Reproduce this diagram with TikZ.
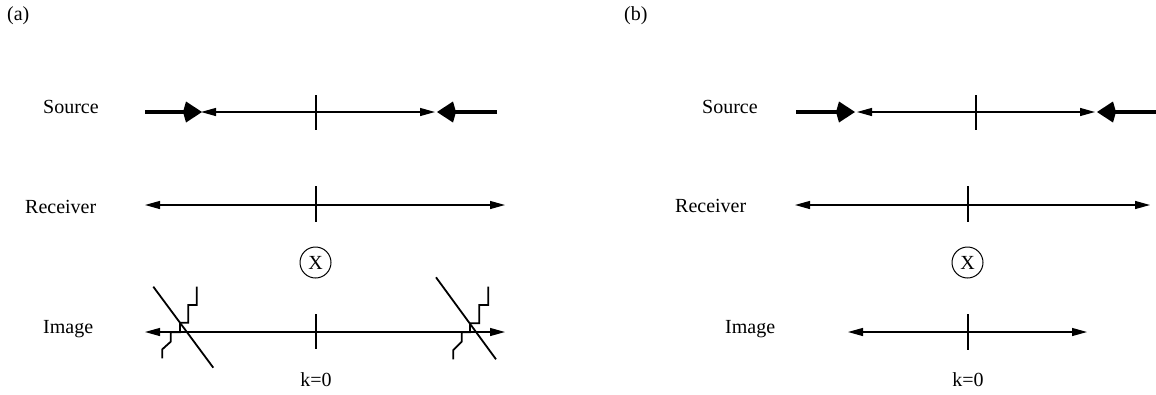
\documentclass[tikz,border=0pt]{standalone}
\usepackage{fontspec}
\setmainfont{Liberation Serif}
\usetikzlibrary{arrows.meta}
\begin{document}
\begin{tikzpicture}[x=1pt,y=-1pt,
  font=\fontsize{20}{24}\selectfont,
  lbl/.style={anchor=base west,inner sep=0pt},
  fine/.style={line width=1.2pt},
  heavy/.style={line width=3.3pt,-{Kite[length=19pt,width=21pt,inset=3pt]}},
  both/.style={fine,{Triangle[length=15pt,width=8pt]}-{Triangle[length=15pt,width=8pt]}},
  tick/.style={line width=1.1pt},
  stair/.style={line width=1.8pt},
  xcirc/.style={draw,circle,line width=1pt,minimum size=31pt,inner sep=0pt}]
\useasboundingbox (0,0) rectangle (1156,394);

% panel labels
\node[lbl] (pa) at (7,20) {(a)};
\node[lbl] (pb) at (624,20) {(b)};

% row labels (a)
\node[lbl] (srcA) at (43,113) {Source};
\node[lbl] (recA) at (25,213) {Receiver};
\node[lbl] (imgA) at (43,333) {Image};
% row labels (b)
\node[lbl] (srcB) at (702,113) {Source};
\node[lbl] (recB) at (675,212) {Receiver};
\node[lbl] (imgB) at (725,333) {Image};

% ---------- panel (a) ----------
\coordinate (sA0) at (145,112);
\coordinate (sA1) at (202,112);
\coordinate (sA2) at (201,112);
\coordinate (sA3) at (435,112);
\coordinate (sA4) at (437,112);
\coordinate (sA5) at (497,112);
\coordinate (sAt) at (316,95);
\coordinate (sAb) at (316,130);
\draw[heavy] (sA0) -- (sA1);
\draw[both] (sA2) -- (sA3);
\draw[heavy] (sA5) -- (sA4);
\draw[tick] (sAt) -- (sAb);

\coordinate (rA0) at (145,205);
\coordinate (rA1) at (505,205);
\coordinate (rAt) at (316,186);
\coordinate (rAb) at (316,222);
\draw[both] (rA0) -- (rA1);
\draw[tick] (rAt) -- (rAb);

\node[xcirc] (xA) at (315.5,262.5) {X};

\coordinate (iA0) at (145,332);
\coordinate (iA1) at (505,332);
\coordinate (iAt) at (316,314);
\coordinate (iAb) at (316,349);
\draw[both] (iA0) -- (iA1);
\draw[tick] (iAt) -- (iAb);

% left interface
\draw[stair] (153.3,286.7) -- (213.3,367.7);
\draw[stair] (196.7,286.7) -- (196.7,305) -- (188.3,305) -- (188.3,322.7) -- (180,322.7)
  -- (180,332.3) -- (170.7,332.3) -- (170.7,341.7) -- (162.3,349.3) -- (162.3,358.3);
% right interface
\draw[stair] (436,277.3) -- (496,359.3);
\draw[stair] (488.3,286.7) -- (488.3,305) -- (479.3,305) -- (479.3,323.3) -- (470,323.3)
  -- (470,332.3) -- (461.7,332.3) -- (461.7,341.7) -- (453.3,350) -- (453.3,359.3);

\node[anchor=base,inner sep=0pt] (kA) at (316,386) {k=0};

% ---------- panel (b) ----------
\coordinate (sB0) at (796,112);
\coordinate (sB1) at (855,112);
\coordinate (sB2) at (857,112);
\coordinate (sB3) at (1095,112);
\coordinate (sB4) at (1097,112);
\coordinate (sB5) at (1156,112);
\coordinate (sBt) at (976,95);
\coordinate (sBb) at (976,130);
\draw[heavy] (sB0) -- (sB1);
\draw[both] (sB2) -- (sB3);
\draw[heavy] (sB5) -- (sB4);
\draw[tick] (sBt) -- (sBb);

\coordinate (rB0) at (795,205);
\coordinate (rB1) at (1150,205);
\coordinate (rBt) at (968,186);
\coordinate (rBb) at (968,222);
\draw[both] (rB0) -- (rB1);
\draw[tick] (rBt) -- (rBb);

\node[xcirc] (xB) at (967.5,262.5) {X};

\coordinate (iB0) at (848,332);
\coordinate (iB1) at (1087,332);
\coordinate (iBt) at (968,314);
\coordinate (iBb) at (968,350);
\draw[both] (iB0) -- (iB1);
\draw[tick] (iBt) -- (iBb);

\node[anchor=base,inner sep=0pt] (kB) at (968,386) {k=0};
\end{tikzpicture}
\end{document}
